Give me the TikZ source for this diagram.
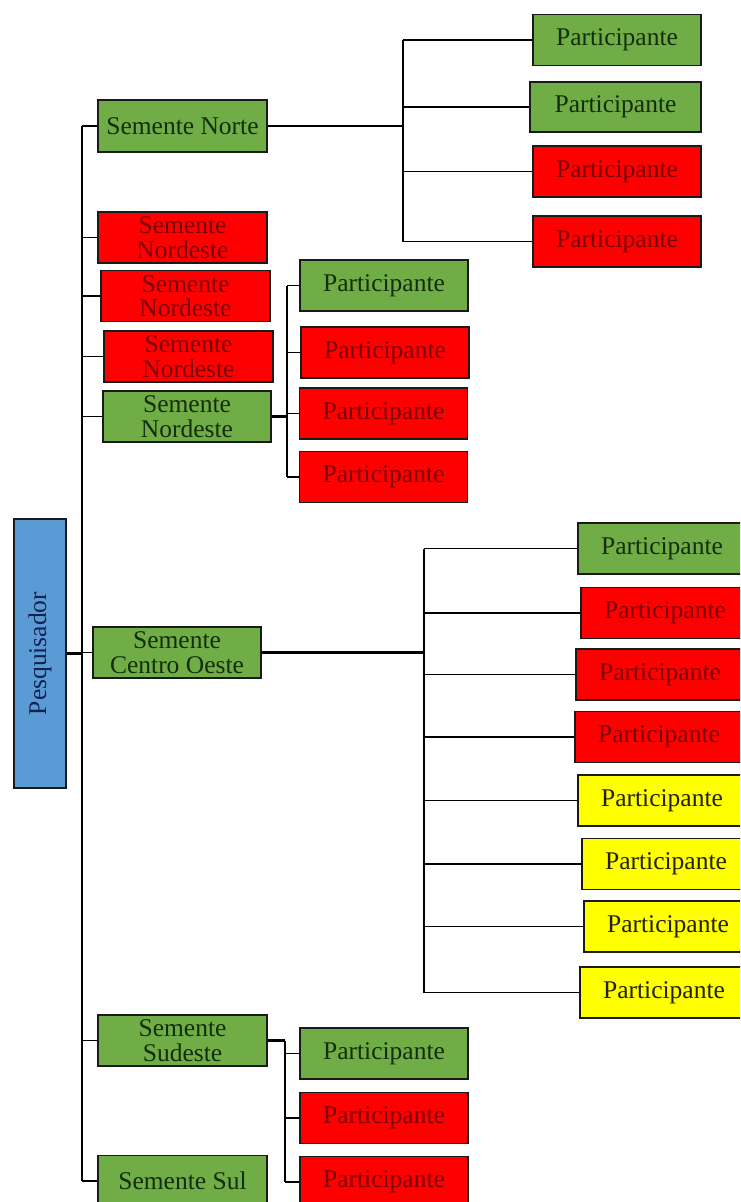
\documentclass[tikz,border=0pt]{standalone}
\usepackage{fontspec}
\setmainfont{Liberation Serif}
\usepackage{graphicx}
\definecolor{gfill}{HTML}{70AD47}
\definecolor{rfill}{HTML}{FF0000}
\definecolor{yfill}{HTML}{FFFF00}
\definecolor{bfill}{HTML}{5B9BD5}
\definecolor{gtext}{HTML}{132E08}
\definecolor{rtext}{HTML}{7A0000}
\definecolor{ytext}{HTML}{222200}
\definecolor{btext}{HTML}{10224E}
\definecolor{edge}{HTML}{1A1A1A}
\begin{document}
\begin{tikzpicture}[x=1pt,y=-1pt,
  box/.style={draw=edge, line width=1.6pt, minimum width=168pt, minimum height=51pt,
    inner sep=0pt, align=center, font=\fontsize{25.5}{24.5}\selectfont},
  gbox/.style={box, fill=gfill, text=gtext},
  rbox/.style={box, fill=rfill, text=rtext},
  ybox/.style={box, fill=yfill, text=ytext},
  thin/.style={draw=black, line width=1.8pt},
  thick/.style={draw=black, line width=2.8pt}]
\useasboundingbox (0,0) rectangle (740,1202);
\clip (0,0) rectangle (740,1202);
\fill[white] (0,0) rectangle (740,1202);

% root
\node[box, fill=bfill, text=btext, minimum width=52pt, minimum height=269pt, font=\fontsize{25.5}{25}\selectfont] (pes) at (40,653.5) {\rotatebox{90}{Pesquisador}};

% seeds
\node[gbox, minimum width=169pt, minimum height=52pt] (norte) at (182.5,126) {Semente Norte};
\node[rbox, minimum width=169pt] (ne1) at (182.5,237.5) {Semente\\Nordeste};
\node[rbox, minimum width=169pt] (ne2) at (185.5,296) {Semente\\Nordeste};
\node[rbox, minimum width=169pt] (ne3) at (188.5,356.5) {Semente\\Nordeste};
\node[gbox] (ne4) at (187,416.5) {Semente\\Nordeste};
\node[gbox] (co) at (177,652.5) {Semente\\Centro Oeste};
\node[gbox, minimum width=169pt] (se) at (182.5,1040.5) {Semente\\Sudeste};
\node[gbox, minimum width=169pt] (sul) at (182.5,1181) {Semente Sul};

% participants of Norte
\node[gbox] (pn1) at (617,40) {Participante};
\node[gbox, minimum width=171pt, minimum height=50pt] (pn2) at (615.5,107) {Participante};
\node[rbox] (pn3) at (617,171.5) {Participante};
\node[rbox] (pn4) at (617,241.5) {Participante};

% participants of Nordeste
\node[gbox] (pd1) at (384,285.5) {Participante};
\node[rbox] (pd2) at (385,352.5) {Participante};
\node[rbox] (pd3) at (383.5,413.5) {Participante};
\node[rbox] (pd4) at (383.5,477) {Participante};

% participants of Centro Oeste
\node[gbox] (pc1) at (662,548.5) {Participante};
\node[rbox] (pc2) at (665,613) {Participante};
\node[rbox] (pc3) at (660,674.5) {Participante};
\node[rbox] (pc4) at (659,737) {Participante};
\node[ybox] (pc5) at (662,800.5) {Participante};
\node[ybox] (pc6) at (666,864) {Participante};
\node[ybox] (pc7) at (668,926.5) {Participante};
\node[ybox] (pc8) at (664,992.5) {Participante};

% participants of Sudeste
\node[gbox] (ps1) at (384,1053.5) {Participante};
\node[rbox] (ps2) at (384,1118) {Participante};
\node[rbox] (ps3) at (384,1182) {Participante};

% branch coordinates
\coordinate (tk) at (82,0);
\coordinate (nb) at (403,0);
\coordinate (db) at (287,0);
\coordinate (cb) at (424,0);
\coordinate (sb) at (285,0);

% trunk
\draw[thick] (tk |- norte.west) -- (tk |- sul.west);
\draw[thick, double=black, double distance=1pt, line width=1.3pt] (pes.east) -- (tk |- pes.east);
\foreach \n in {norte,ne1,ne2,ne3,ne4,co,se,sul}
  \draw[thin] (tk |- \n.west) -- (\n.west);

% Norte
\draw[thick] (norte.east) -- (nb |- norte.east);
\draw[thin] (nb |- pn1.west) -- (nb |- pn4.west);
\foreach \n in {pn1,pn2,pn3,pn4}
  \draw[thin] (nb |- \n.west) -- (\n.west);

% Nordeste
\draw[thick] (ne4.east) -- (db |- ne4.east);
\draw[thin] (db |- pd1.west) -- (db |- pd4.west);
\foreach \n in {pd1,pd2,pd3,pd4}
  \draw[thin] (db |- \n.west) -- (\n.west);

% Centro Oeste
\draw[thick] (co.east) -- (cb |- co.east);
\draw[thin] (cb |- pc1.west) -- (cb |- pc8.west);
\draw[thick] (cb |- co.east) -- (cb |- pc5.west);
\foreach \n in {pc1,pc2,pc3,pc4,pc5,pc6,pc7,pc8}
  \draw[thin] (cb |- \n.west) -- (\n.west);

% Sudeste
\draw[thick] (se.east) -- (sb |- se.east);
\draw[thin] (sb |- se.east) -- (sb |- ps3.west);
\foreach \n in {ps1,ps2,ps3}
  \draw[thin] (sb |- \n.west) -- (\n.west);
\end{tikzpicture}
\end{document}
